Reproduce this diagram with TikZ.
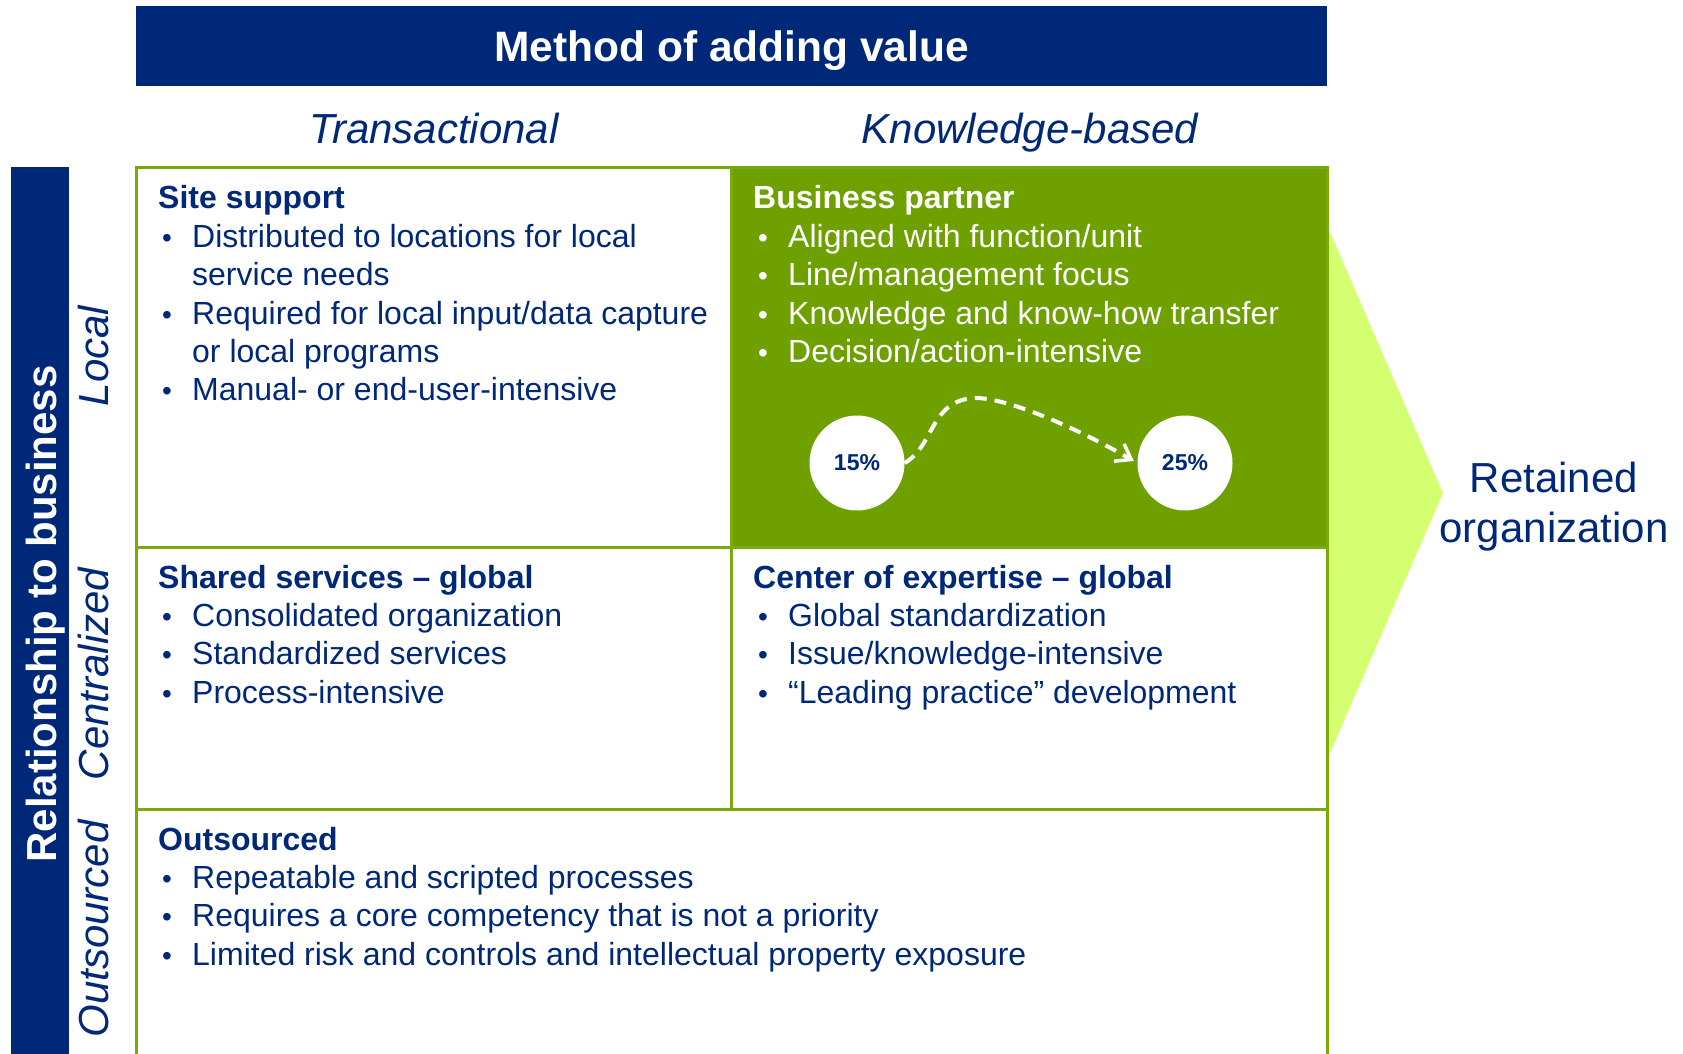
\documentclass[tikz,border=0pt]{standalone}
\usepackage{fontspec}
\setmainfont{Liberation Sans}
\usetikzlibrary{arrows.meta}

\definecolor{navy}{RGB}{0,40,120}
\definecolor{leaf}{RGB}{110,160,0}
\definecolor{rule}{RGB}{120,170,10}
\definecolor{lime}{RGB}{212,255,112}

\tikzset{
  head/.style={anchor=base west, inner sep=0pt, text=navy, font=\fontsize{32}{38}\selectfont\bfseries},
  item/.style={anchor=base west, inner sep=0pt, text=navy, font=\fontsize{32}{38}\selectfont},
  bul/.style={anchor=base west, inner sep=0pt, text=navy, font=\fontsize{28}{38}\selectfont},
  colhead/.style={anchor=base, inner sep=0pt, text=navy, font=\fontsize{42}{50}\selectfont\itshape},
  rowhead/.style={anchor=base, inner sep=0pt, rotate=90, text=navy, font=\fontsize{42}{50}\selectfont\itshape},
  gridline/.style={draw=rule, line width=3pt},
  pct/.style={circle, fill=white, minimum size=95pt, inner sep=0pt, text=navy, font=\fontsize{23}{28}\selectfont\bfseries},
}

% a bullet and its line of text; #1 colour, #2 name, #3 x of bullet, #4 baseline y, #5 text
\newcommand{\bitem}[5][navy]{%
  \node[bul, text=#1] (#2b) at (#3,#4) {\textbullet};
  \node[item, text=#1] (#2) at (#3+30,#4) {#5};}

\begin{document}
\begin{tikzpicture}[x=1pt,y=-1pt]
\useasboundingbox (0,0) rectangle (1683,1054);

% title bar
\fill[navy] (136,6) rectangle (1327,86);
\node[anchor=base, inner sep=0pt, text=white, font=\fontsize{42.5}{50}\selectfont\bfseries] (title) at (731.5,62) {Method of adding value};

% column headings
\node[colhead] (trans) at (434,143) {Transactional};
\node[colhead] (know) at (1030,143) {Knowledge-based};

% vertical bar on the left
\fill[navy] (11,167) rectangle (69,1054);
\node[anchor=base, inner sep=0pt, rotate=90, text=white, font=\fontsize{42}{50}\selectfont\bfseries] (rel) at (56,614) {Relationship to business};

% row headings
\node[rowhead] (local) at (108,356) {Local};
\node[rowhead] (central) at (108,674) {Centralized};
\node[rowhead] (outs) at (108,929) {Outsourced};

% retained organization chevron
\fill[lime] (1327,225) -- (1443,493) -- (1327,760) -- cycle;
\node[anchor=base, inner sep=0pt, text=navy, font=\fontsize{42}{50}\selectfont] (ret1) at (1554,492) {Retained};
\node[anchor=base, inner sep=0pt, text=navy, font=\fontsize{42}{50}\selectfont] (ret2) at (1554,542) {organization};

% highlighted cell
\fill[leaf] (731,167) rectangle (1327,547);

% grid
\draw[gridline] (136,1054) -- (136,167) -- (1327,167) -- (1327,1054);
\draw[gridline] (136,547) -- (1327,547);
\draw[gridline] (136,809) -- (1327,809);
\draw[gridline] (731,167) -- (731,809);

% site support
\node[head] (ssh) at (158,208) {Site support};
\bitem{ss1}{162}{247}{Distributed to locations for local}
\node[item] (ss1c) at (192,285) {service needs};
\bitem{ss2}{162}{324}{Required for local input/data capture}
\node[item] (ss2c) at (192,362) {or local programs};
\bitem{ss3}{162}{400}{Manual- or end-user-intensive}

% business partner
\node[head, text=white] (bph) at (753,208) {Business partner};
\bitem[white]{bp1}{758}{247}{Aligned with function/unit}
\bitem[white]{bp2}{758}{285}{Line/management focus}
\bitem[white]{bp3}{758}{324}{Knowledge and know-how transfer}
\bitem[white]{bp4}{758}{362}{Decision/action-intensive}

% share growth
\node[pct] (p15) at (857,463) {15\%};
\node[pct] (p25) at (1185,463) {25\%};
\coordinate (crest) at (975,398);
\draw[white, line width=4pt, dash pattern=on 12pt off 8pt, shorten >=4pt,
      -{Straight Barb[length=14pt,width=20pt,line width=3.5pt]}]
  (p15.east) .. controls (935,445) and (930,400) .. (crest)
  .. controls (1010,398) and (1080,430) .. (p25.west);

% shared services
\node[head] (shh) at (158,588) {Shared services -- global};
\bitem{sh1}{162}{626}{Consolidated organization}
\bitem{sh2}{162}{664}{Standardized services}
\bitem{sh3}{162}{703}{Process-intensive}

% center of expertise
\node[head] (ceh) at (753,588) {Center of expertise -- global};
\bitem{ce1}{758}{626}{Global standardization}
\bitem{ce2}{758}{664}{Issue/knowledge-intensive}
\bitem{ce3}{758}{703}{“Leading practice” development}

% outsourced
\node[head] (ouh) at (158,850) {Outsourced};
\bitem{ou1}{162}{888}{Repeatable and scripted processes}
\bitem{ou2}{162}{926}{Requires a core competency that is not a priority}
\bitem{ou3}{162}{965}{Limited risk and controls and intellectual property exposure}
\end{tikzpicture}
\end{document}
